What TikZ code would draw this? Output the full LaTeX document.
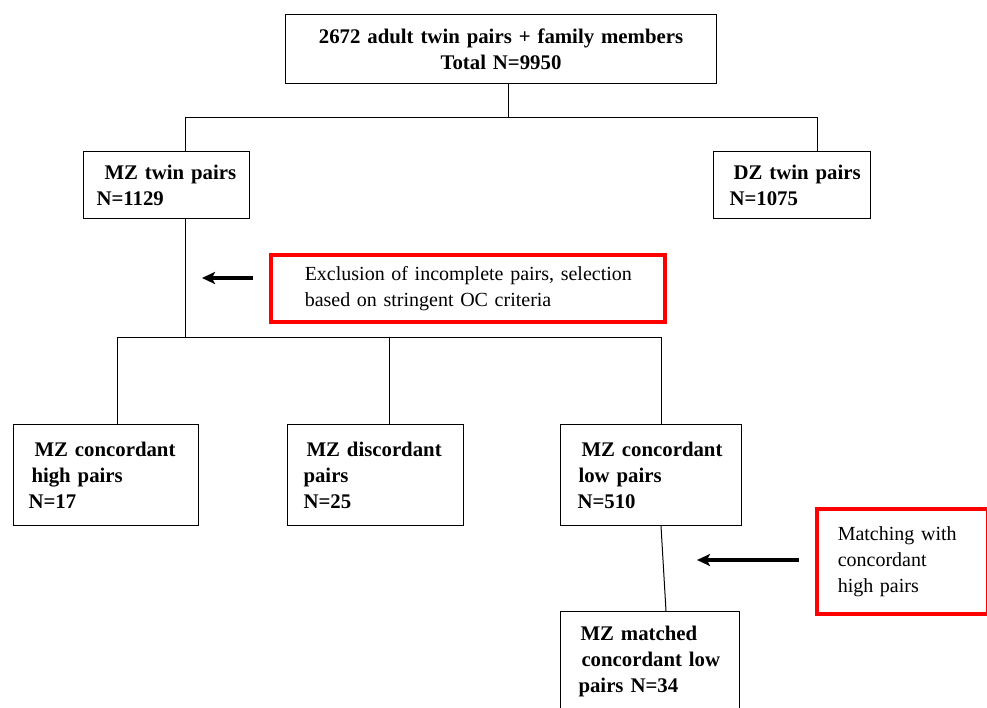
\documentclass[tikz,border=0pt]{standalone}
\usepackage{fontspec}
\setmainfont{Liberation Serif}
\usetikzlibrary{arrows.meta}
\begin{document}
\begin{tikzpicture}[x=1pt,y=-1pt,
  box/.style={draw, line width=1pt, anchor=north west, align=left,
    inner ysep=0pt, font=\fontsize{20.8}{26}\selectfont\bfseries},
  redbox/.style={draw=red, line width=3.5pt, anchor=north west, align=left,
    inner ysep=0pt, font=\fontsize{20}{26}\selectfont},
  conn/.style={line width=1pt},
  arr/.style={line width=3.5pt, -{Stealth[length=13pt,width=12pt,inset=3pt]}}]
\useasboundingbox (0,0) rectangle (987,707);
\clip (0,0) rectangle (987,707);
% boxes
\node[box, align=center, minimum width=431pt, minimum height=69pt, text width=411pt, inner xsep=10pt]
  (top) at (285,14) {\mbox{2672 adult twin pairs + family members}\\\mbox{Total N=9950}};
\node[box, minimum width=166pt, minimum height=67pt, text width=140pt, inner xsep=13pt]
  (mz) at (83,151) {\mbox{\hspace*{8pt}MZ twin pairs}\\\mbox{N=1129}};
\node[box, minimum width=157pt, minimum height=67pt, text width=125pt, inner xsep=16pt]
  (dz) at (713,151) {\mbox{\hspace*{4pt}DZ twin pairs}\\\mbox{N=1075}};
\node[box, minimum width=185pt, minimum height=101pt, text width=155pt, inner xsep=15pt]
  (b1) at (13,424) {\mbox{\hspace*{6pt}MZ concordant}\\\mbox{\hspace*{3pt}high pairs}\\\mbox{N=17}};
\node[box, minimum width=176pt, minimum height=101pt, text width=144pt, inner xsep=16pt]
  (b2) at (287,424) {\mbox{\hspace*{3pt}MZ discordant}\\\mbox{pairs}\\\mbox{N=25}};
\node[box, minimum width=181pt, minimum height=101pt, text width=147pt, inner xsep=17pt]
  (b3) at (560,424) {\mbox{\hspace*{4pt}MZ concordant}\\\mbox{\hspace*{1pt}low pairs}\\\mbox{N=510}};
\node[box, minimum width=179pt, minimum height=100pt, text width=143pt, inner xsep=18pt]
  (b4) at (560,611) {\mbox{\hspace*{2pt}MZ matched}\\\mbox{\hspace*{3pt}concordant low}\\\mbox{pairs N=34}};
\node[redbox, minimum width=394pt, minimum height=67pt, text width=326pt, inner xsep=34pt]
  (r1) at (269,253) {\mbox{Exclusion of incomplete pairs, selection}\\\mbox{based on stringent OC criteria}};
\node[redbox, minimum width=171pt, minimum height=105pt, text width=129pt, inner xsep=21pt]
  (r2) at (815,507) {\mbox{Matching with}\\\mbox{concordant}\\\mbox{high pairs}};
% junction coordinates
\coordinate (j0) at (508,117);
\coordinate (j1l) at (185,117);
\coordinate (j1r) at (817,117);
\coordinate (j2) at (185,337);
\coordinate (j2l) at (117,337);
\coordinate (j2m) at (389,337);
\coordinate (j2r) at (661,337);
\coordinate (j4) at (666,0);
% connectors
\draw[conn] (j0 |- top.south) -- (j0);
\draw[conn] (j1l) -- (j1r);
\draw[conn] (j1l) -- (j1l |- mz.north);
\draw[conn] (j1r) -- (j1r |- dz.north);
\draw[conn] (j1l |- mz.south) -- (j2);
\draw[conn] (j2l) -- (j2r);
\draw[conn] (j2l) -- (j2l |- b1.north);
\draw[conn] (j2m) -- (j2m |- b2.north);
\draw[conn] (j2r) -- (j2r |- b3.north);
\draw[conn] (j2r |- b3.south) -- (j4 |- b4.north);
% arrows
\coordinate (a1s) at (253,278);
\coordinate (a1e) at (202,278);
\coordinate (a2s) at (799,560);
\coordinate (a2e) at (697,560);
\draw[arr] (a1s) -- (a1e);
\draw[arr] (a2s) -- (a2e);
\end{tikzpicture}
\end{document}
